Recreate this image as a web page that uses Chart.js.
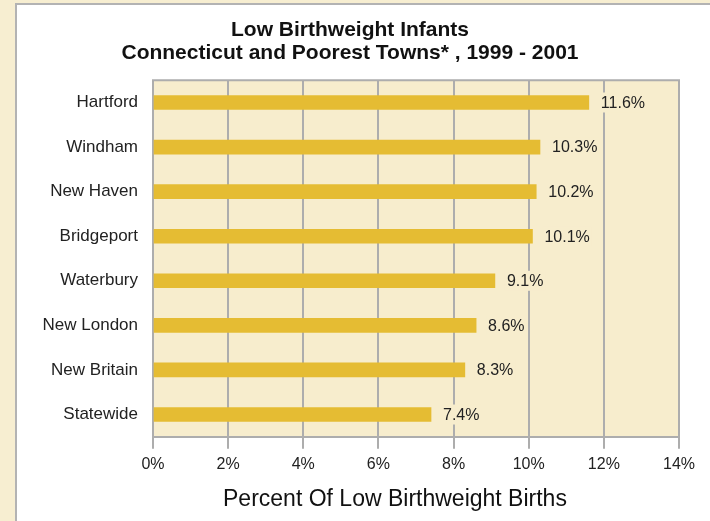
<!DOCTYPE html>
<html><head><meta charset="utf-8">
<script src="https://cdn.jsdelivr.net/npm/chart.js@4/dist/chart.umd.min.js"></script>
<style>
html,body{margin:0;padding:0;width:710px;height:521px;overflow:hidden;background:#f7eed1;}
#panel{position:absolute;left:15px;top:3px;width:720px;height:540px;background:#fff;border:2px solid #b3b3b3;box-sizing:border-box;}
#wrap{position:absolute;left:0;top:0;width:710px;height:521px;}
</style></head><body>
<div id="panel"></div>
<div id="wrap"><canvas id="c" width="710" height="521"></canvas></div>
<script>
const categories = ['Hartford','Windham','New Haven','Bridgeport','Waterbury','New London','New Britain','Statewide'];
const percentLowBirthweight = [11.6, 10.3, 10.2, 10.1, 9.1, 8.6, 8.3, 7.4];
const xTickValues = [0, 2, 4, 6, 8, 10, 12, 14];
const titleLines = ['Low Birthweight Infants', 'Connecticut and Poorest Towns* , 1999 - 2001'];
const xAxisTitle = 'Percent Of Low Birthweight Births';

const GRID = '#adadad';
const PLOT_BG = '#f7edcd';
const BAR = '#e5bc33';
const FONT = "'Liberation Sans', Arial, sans-serif";

const plotFrame = {
  id: 'plotFrame',
  beforeDraw(chart) {
    const a = chart.chartArea, ctx = chart.ctx;
    ctx.save();
    ctx.fillStyle = PLOT_BG;
    ctx.fillRect(a.left, a.top, a.right - a.left, a.bottom - a.top);
    ctx.restore();
  },
  beforeDatasetsDraw(chart) {
    const a = chart.chartArea, ctx = chart.ctx;
    ctx.save();
    ctx.strokeStyle = GRID; ctx.lineWidth = 2;
    ctx.beginPath(); ctx.moveTo(a.left - 1, a.top); ctx.lineTo(a.right + 1, a.top); ctx.stroke();
    ctx.restore();
  },
  afterDatasetsDraw(chart) {
    const ctx = chart.ctx;
    const meta = chart.getDatasetMeta(0);
    ctx.save();
    ctx.font = '16px ' + FONT;
    ctx.textBaseline = 'middle';
    ctx.textAlign = 'left';
    meta.data.forEach((bar, i) => {
      const txt = percentLowBirthweight[i].toFixed(1) + '%';
      const x = bar.x + 12;
      const w = ctx.measureText(txt).width;
      ctx.fillStyle = PLOT_BG;
      ctx.fillRect(x - 2, bar.y - 10, w + 4, 20);
      ctx.fillStyle = '#222';
      ctx.fillText(txt, x, bar.y + 1);
    });
    ctx.restore();
  },
  afterDraw(chart) {
    const a = chart.chartArea, ctx = chart.ctx;
    ctx.save();
    ctx.font = '23px ' + FONT;
    ctx.fillStyle = '#111';
    ctx.textAlign = 'center';
    ctx.textBaseline = 'alphabetic';
    ctx.fillText(xAxisTitle, a.left + (a.right - a.left) * 0.46, 506);
    ctx.restore();
  }
};

new Chart(document.getElementById('c'), {
  type: 'bar',
  data: {
    labels: categories,
    datasets: [{
      data: percentLowBirthweight,
      backgroundColor: BAR,
      borderWidth: 0,
      barThickness: 14
    }]
  },
  options: {
    indexAxis: 'y',
    responsive: false,
    animation: false,
    layout: { padding: { left: 21, right: 31, top: 0, bottom: 41 } },
    plugins: {
      legend: { display: false },
      tooltip: { enabled: false },
      title: {
        display: true,
        text: titleLines,
        color: '#111',
        font: { family: FONT, size: 21, weight: 'bold', lineHeight: 1.1 },
        padding: { top: 19, bottom: 15 }
      }
    },
    scales: {
      x: {
        min: 0, max: 14,
        afterBuildTicks(scale) { scale.ticks = xTickValues.map(v => ({ value: v })); },
        ticks: {
          callback: v => v + '%',
          color: '#222',
          font: { family: FONT, size: 16 },
          padding: 6,
          maxRotation: 0
        },
        grid: { color: GRID, lineWidth: 2, tickLength: 12, drawTicks: true, tickColor: GRID, tickWidth: 2 },
        border: { display: true, color: GRID, width: 2 }
      },
      y: {
        afterFit(scale) { scale.width = 132; },
        ticks: { color: '#222', font: { family: FONT, size: 17 }, padding: 15 },
        grid: { display: false, drawTicks: false },
        border: { display: false }
      }
    }
  },
  plugins: [plotFrame]
});
</script>
</body></html>
